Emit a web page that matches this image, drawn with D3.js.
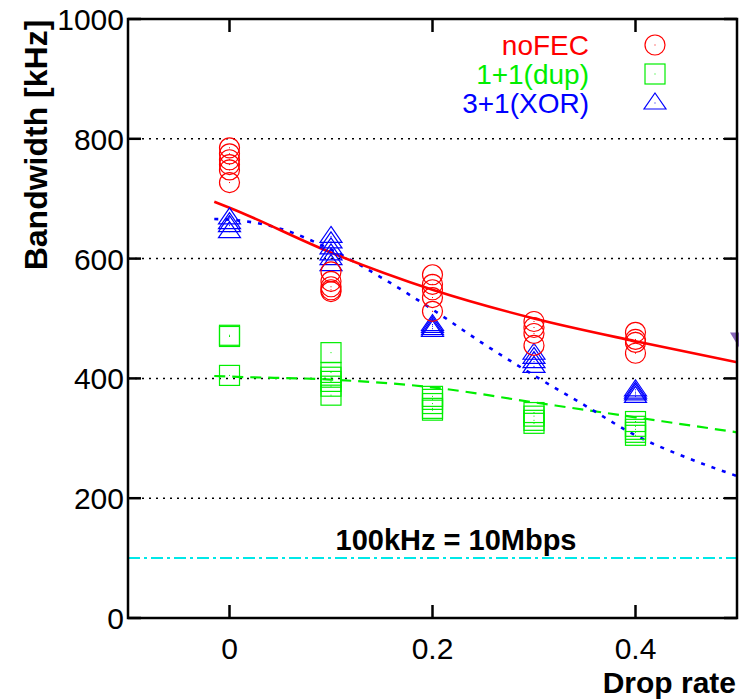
<!DOCTYPE html>
<html>
<head>
<meta charset="utf-8">
<script src="https://cdn.jsdelivr.net/npm/d3@7"></script>
<style>
  body { margin: 0; background: #fff; }
  text { font-family: "Liberation Sans", Arial, sans-serif; }
</style>
</head>
<body>
<svg id="chart" width="739" height="700"></svg>
<script>
// drop rates where measurements were taken
var dropRates = [0, 0.1, 0.2, 0.3, 0.4];

// measured bandwidth [kHz], one list per drop rate
var noFecValues = [
    [785, 775, 765, 757, 748, 727],
    [578, 562, 553, 548, 545],
    [573, 557, 548, 535, 512],
    [495, 485, 475, 455],
    [477, 465, 460, 442]
];
var dupValues = [
    [472, 470, 405],
    [443, 410, 402, 395, 387, 372],
    [370, 365, 358, 350, 347],
    [343, 337, 330, 325],
    [328, 320, 315, 310, 305]
];
var xorValues = [
    [668, 660, 655, 645],
    [637, 628, 618, 608, 600, 590],
    [490, 487, 483, 480],
    [442, 435, 428, 420],
    [381, 377, 374, 370]
];

// fitted curves as [drop rate, kHz]
var noFecFit = [[-0.015, 695], [0, 685], [0.1, 610], [0.2, 548], [0.3, 500], [0.4, 462], [0.5, 427]];
var dupFit = [[-0.015, 404], [0, 403], [0.1, 398], [0.2, 385], [0.3, 360], [0.4, 335], [0.5, 310]];
var xorFit = [[-0.015, 666], [0, 665], [0.05, 650], [0.1, 615], [0.15, 568], [0.2, 515], [0.25, 458],
              [0.3, 405], [0.35, 355], [0.4, 305], [0.45, 268], [0.5, 237]];

// stray point at the right edge
var edgePoint = [[0.502, 465]];

var yTicks = [0, 200, 400, 600, 800, 1000];
var xTicks = [0, 0.2, 0.4];
var gridValues = [200, 400, 600, 800];
var refLine = 100;

var legendNames = ['noFEC', '1+1(dup)', '3+1(XOR)'];

class BandwidthChart {
    constructor(svg){
        this.svg = svg;
        this.left = 128;
        this.right = 737;
        this.top = 19;
        this.bottom = 618;
        this.x = d3.scaleLinear().domain([-0.1, 0.5]).range([this.left, this.right]);
        this.y = d3.scaleLinear().domain([0, 1000]).range([this.bottom, this.top]);
        this.fontSize = 30;
    }

    Draw(){
        this.DrawGrid();
        this.DrawReference();
        this.DrawFits();
        this.DrawMarkers();
        this.DrawFrame();
        this.DrawLabels();
        this.DrawLegend();
    }

    DrawGrid(){
        var self = this;
        this.svg.append('g').selectAll('line')
            .data(gridValues)
            .enter()
            .append('line')
            .attr('x1', this.left).attr('x2', this.right)
            .attr('y1', function(d){ return self.y(d); })
            .attr('y2', function(d){ return self.y(d); })
            .style('stroke', '#000')
            .style('stroke-width', 1.5)
            .style('stroke-dasharray', '2,5');
    }

    DrawReference(){
        this.svg.append('line')
            .attr('x1', this.left).attr('x2', this.right)
            .attr('y1', this.y(refLine)).attr('y2', this.y(refLine))
            .style('stroke', '#00e8e8')
            .style('stroke-width', 2)
            .style('stroke-dasharray', '12,4,3,4');
        this.svg.append('text')
            .attr('x', 456).attr('y', this.y(refLine) - 8)
            .attr('text-anchor', 'middle')
            .attr('font-size', 29)
            .attr('font-weight', 'bold')
            .text('100kHz = 10Mbps');
    }

    DrawFits(){
        var self = this;
        var line = d3.line()
            .x(function(d){ return self.x(d[0]); })
            .y(function(d){ return self.y(d[1]); })
            .curve(d3.curveMonotoneX);
        var fits = [
            {data: dupFit, color: '#00ee00', dash: '11,7', width: 2.2},
            {data: xorFit, color: '#0000ff', dash: '4,7', width: 2.6},
            {data: noFecFit, color: '#ff0000', dash: null, width: 2.6}
        ];
        fits.forEach(function(f){
            self.svg.append('path')
                .attr('d', line(f.data))
                .style('fill', 'none')
                .style('stroke', f.color)
                .style('stroke-width', f.width)
                .style('stroke-dasharray', f.dash);
        });
    }

    DrawSymbol(g, kind, cx, cy, color){
        if(kind === 'circle'){
            g.append('circle').attr('cx', cx).attr('cy', cy).attr('r', 10);
        }
        else if(kind === 'square'){
            g.append('rect').attr('x', cx - 10).attr('y', cy - 10).attr('width', 20).attr('height', 20);
        }
        else{
            g.append('path').attr('d', 'M' + cx + ',' + (cy - 10) + 'L' + (cx + 11) + ',' + (cy + 6) + 'L' + (cx - 11) + ',' + (cy + 6) + 'Z');
        }
        g.append('rect').attr('x', cx - 0.5).attr('y', cy - 0.5).attr('width', 1).attr('height', 1)
            .style('fill', color).style('stroke', 'none');
    }

    DrawMarkers(){
        var self = this;
        var series = [
            {values: dupValues, kind: 'square', color: '#00ee00'},
            {values: xorValues, kind: 'triangle', color: '#0000ff'},
            {values: noFecValues, kind: 'circle', color: '#ff0000'}
        ];
        series.forEach(function(s){
            var g = self.svg.append('g')
                .style('fill', 'none')
                .style('stroke', s.color)
                .style('stroke-width', 1.2);
            s.values.forEach(function(list, i){
                list.forEach(function(v){
                    self.DrawSymbol(g, s.kind, self.x(dropRates[i]), self.y(v), s.color);
                });
            });
        });

        // clipped marker at the right border
        this.svg.append('g').selectAll('path')
            .data(edgePoint)
            .enter()
            .append('path')
            .attr('d', function(d){
                var cx = self.x(d[0]), cy = self.y(d[1]);
                return 'M' + (cx - 9) + ',' + (cy - 7) + 'L' + (cx + 9) + ',' + (cy - 7) + 'L' + cx + ',' + (cy + 8) + 'Z';
            })
            .style('fill', '#8866bb');
    }

    DrawFrame(){
        var self = this;
        this.svg.append('rect')
            .attr('x', this.left).attr('y', this.top)
            .attr('width', this.right - this.left).attr('height', this.bottom - this.top)
            .style('fill', 'none')
            .style('stroke', '#000')
            .style('stroke-width', 2.5);

        var tickLen = 13;
        var ticks = this.svg.append('g').style('stroke', '#000').style('stroke-width', 2.5);
        yTicks.forEach(function(v){
            ticks.append('line').attr('x1', self.left).attr('x2', self.left + tickLen)
                .attr('y1', self.y(v)).attr('y2', self.y(v));
            ticks.append('line').attr('x1', self.right - tickLen).attr('x2', self.right)
                .attr('y1', self.y(v)).attr('y2', self.y(v));
        });
        xTicks.forEach(function(v){
            ticks.append('line').attr('x1', self.x(v)).attr('x2', self.x(v))
                .attr('y1', self.bottom).attr('y2', self.bottom - tickLen);
            ticks.append('line').attr('x1', self.x(v)).attr('x2', self.x(v))
                .attr('y1', self.top).attr('y2', self.top + tickLen);
        });
    }

    DrawLabels(){
        var self = this;
        this.svg.append('g').selectAll('text')
            .data(yTicks)
            .enter()
            .append('text')
            .attr('x', 124)
            .attr('y', function(d){ return self.y(d) + 11; })
            .attr('text-anchor', 'end')
            .attr('font-size', this.fontSize)
            .text(function(d){ return d; });

        this.svg.append('g').selectAll('text')
            .data(xTicks)
            .enter()
            .append('text')
            .attr('x', function(d){ return self.x(d); })
            .attr('y', 659)
            .attr('text-anchor', 'middle')
            .attr('font-size', this.fontSize)
            .text(function(d){ return d; });

        this.svg.append('text')
            .attr('transform', 'translate(47,145) rotate(-90)')
            .attr('text-anchor', 'middle')
            .attr('font-size', 32)
            .attr('font-weight', 'bold')
            .text('Bandwidth [kHz]');

        this.svg.append('text')
            .attr('x', 736).attr('y', 693)
            .attr('text-anchor', 'end')
            .attr('font-size', 30)
            .attr('font-weight', 'bold')
            .text('Drop rate');
    }

    DrawLegend(){
        var self = this;
        var colors = ['#ff0000', '#00ee00', '#0000ff'];
        var kinds = ['circle', 'square', 'triangle'];
        legendNames.forEach(function(name, i){
            var cy = 45 + i * 29;
            self.svg.append('text')
                .attr('x', 589).attr('y', cy + 10)
                .attr('text-anchor', 'end')
                .attr('font-size', 28)
                .style('fill', colors[i])
                .text(name);
            var g = self.svg.append('g')
                .style('fill', 'none')
                .style('stroke', colors[i])
                .style('stroke-width', 1.2);
            self.DrawSymbol(g, kinds[i], 655, cy, colors[i]);
        });
    }
}

var chart = new BandwidthChart(d3.select('#chart'));
chart.Draw();
</script>
</body>
</html>
